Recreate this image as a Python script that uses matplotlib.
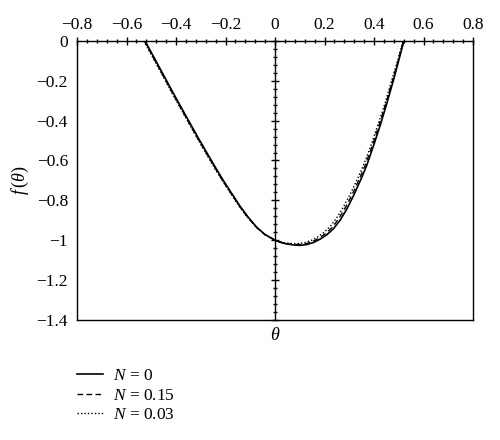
import numpy as np
import matplotlib
matplotlib.use("Agg")
import matplotlib.pyplot as plt
from matplotlib import rcParams
from matplotlib.ticker import MultipleLocator, FixedLocator, NullFormatter

params = {
    'font.family': 'Liberation Serif',
    'mathtext.fontset': 'custom',
    'mathtext.it': 'Liberation Serif:italic',
    'mathtext.rm': 'Liberation Serif',
    'font.size': 12.5,
    'axes.linewidth': 1.0,
}
rcParams.update(params)

# curve data
theta_n0 = [-0.525, -0.478, -0.444, -0.411, -0.377, -0.343, -0.310, -0.276, -0.242,
            -0.209, -0.175, -0.141, -0.108, -0.074, -0.040, 0.0, 0.020, 0.047, 0.074,
            0.101, 0.128, 0.155, 0.182, 0.209, 0.236, 0.263, 0.290, 0.316, 0.343,
            0.357, 0.370, 0.397, 0.424, 0.451, 0.478, 0.498, 0.521]
f_n0 = [0.0, -0.108, -0.186, -0.262, -0.338, -0.414, -0.487, -0.560, -0.632,
        -0.700, -0.765, -0.830, -0.885, -0.935, -0.972, -1.0, -1.010, -1.019, -1.024,
        -1.026, -1.022, -1.012, -0.995, -0.973, -0.943, -0.900, -0.844, -0.780, -0.706,
        -0.666, -0.627, -0.530, -0.428, -0.317, -0.200, -0.107, 0.0]

theta_n015 = [-0.528, -0.481, -0.447, -0.414, -0.380, -0.346, -0.313, -0.279, -0.245,
              -0.212, -0.178, -0.143, -0.110, -0.075, -0.041, 0.0, 0.019, 0.045, 0.071,
              0.098, 0.125, 0.151, 0.178, 0.204, 0.231, 0.257, 0.284, 0.311, 0.338,
              0.352, 0.365, 0.393, 0.420, 0.448, 0.475, 0.496, 0.519]
f_n015 = [0.0, -0.108, -0.186, -0.262, -0.338, -0.414, -0.487, -0.560, -0.632,
          -0.700, -0.765, -0.830, -0.885, -0.935, -0.972, -1.0, -1.009, -1.017, -1.021,
          -1.022, -1.018, -1.007, -0.990, -0.967, -0.936, -0.893, -0.837, -0.773, -0.700,
          -0.660, -0.622, -0.525, -0.424, -0.314, -0.198, -0.106, 0.0]

theta_n003 = [-0.530, -0.483, -0.449, -0.416, -0.382, -0.348, -0.315, -0.281, -0.247,
              -0.214, -0.179, -0.145, -0.111, -0.076, -0.041, 0.0, 0.018, 0.043, 0.069,
              0.095, 0.121, 0.147, 0.173, 0.199, 0.225, 0.251, 0.278, 0.305, 0.333,
              0.347, 0.360, 0.389, 0.416, 0.445, 0.472, 0.494, 0.517]
f_n003 = [0.0, -0.108, -0.186, -0.262, -0.338, -0.414, -0.487, -0.560, -0.632,
          -0.700, -0.765, -0.830, -0.885, -0.935, -0.972, -1.0, -1.008, -1.014, -1.017,
          -1.017, -1.012, -1.001, -0.983, -0.960, -0.928, -0.885, -0.830, -0.766, -0.693,
          -0.654, -0.616, -0.520, -0.420, -0.311, -0.196, -0.105, 0.0]

xticks = [-0.8, -0.6, -0.4, -0.2, 0.0, 0.2, 0.4, 0.6, 0.8]
xtick_labels = ["\u22120.8", "\u22120.6", "\u22120.4", "\u22120.2", "0", "0.2", "0.4", "0.6", "0.8"]
yticks = [0.0, -0.2, -0.4, -0.6, -0.8, -1.0, -1.2, -1.4]
ytick_labels = ["0", "\u22120.2", "\u22120.4", "\u22120.6", "\u22120.8", "\u22121", "\u22121.2", "\u22121.4"]

fig = plt.figure(figsize=(5, 4.4), dpi=100)
ax = fig.add_axes([0.154, 0.273, 0.792, 0.634])

l1, = ax.plot(theta_n0, f_n0, c="black", lw=1.2, ls="-", label=r"$N$ = 0")
l2, = ax.plot(theta_n015, f_n015, c="black", lw=1.0, ls=(0, (4, 2.5)), label=r"$N$ = 0.15")
l3, = ax.plot(theta_n003, f_n003, c="black", lw=1.0, ls=(0, (1, 1.5)), label=r"$N$ = 0.03")

ax.set_xlim(-0.8, 0.8)
ax.set_ylim(-1.4, 0)

# x axis sits on top (y = 0)
ax.xaxis.tick_top()
ax.set_xticks(xticks)
ax.set_xticklabels(xtick_labels)
ax.xaxis.set_minor_locator(MultipleLocator(0.04))
ax.tick_params(axis='x', which='major', direction='inout', length=6, width=1.0, pad=3)
ax.tick_params(axis='x', which='minor', direction='inout', length=3.5, width=1.0)

# y labels on left frame, no ticks there
ax.set_yticks(yticks)
ax.set_yticklabels(ytick_labels)
ax.tick_params(axis='y', which='major', length=0, pad=6.5)

# y axis line through theta = 0
sec = ax.secondary_yaxis(0.5)
sec.yaxis.set_major_locator(FixedLocator(yticks))
sec.yaxis.set_major_formatter(NullFormatter())
sec.yaxis.set_minor_locator(MultipleLocator(0.04))
sec.tick_params(which='major', direction='inout', length=6, width=1.0)
sec.tick_params(which='minor', direction='inout', length=3.5, width=1.0)
sec.spines['left'].set_linewidth(1.0)

ax.set_xlabel(r"$\theta$", fontsize=13, labelpad=5)
ax.xaxis.set_label_position('bottom')
ax.set_ylabel(r"$f\,(\theta)$", fontsize=13, labelpad=4)

fig.legend(handles=[l1, l2, l3], loc='upper left', bbox_to_anchor=(0.122, 0.199),
           frameon=False, handlelength=1.5, handletextpad=0.6, labelspacing=0.2,
           borderpad=0.4, fontsize=12.5)

fig.savefig("out.png", dpi=100)
